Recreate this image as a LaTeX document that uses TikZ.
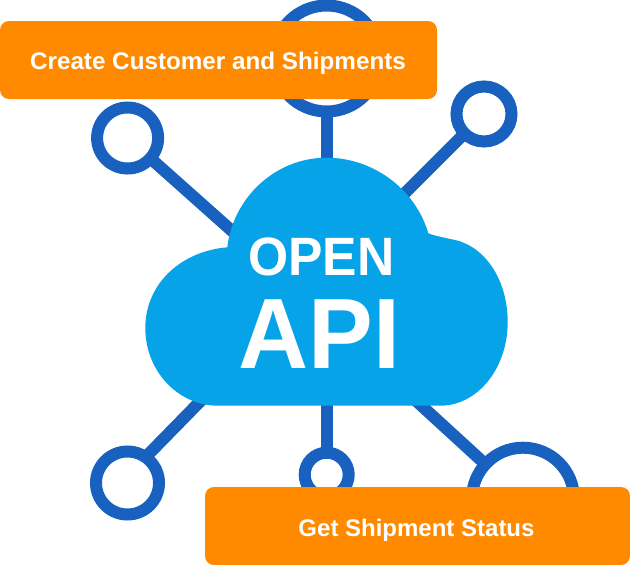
\documentclass[tikz,border=0pt]{standalone}
\usepackage{fontspec}
\setmainfont{Liberation Sans}
\definecolor{linkblue}{HTML}{1961BF}
\definecolor{cloudblue}{HTML}{06A3E8}
\definecolor{boxorange}{HTML}{FF8A00}
\tikzset{
  ring/.style={circle,draw=linkblue,line width=12pt,inner sep=0pt,outer sep=0pt,minimum size=#1},
  link/.style={draw=linkblue,line width=12pt},
  labelbox/.style={fill=boxorange,rounded corners=9pt,inner sep=0pt,minimum height=78pt},
  boxtext/.style={text=white,inner sep=0pt,font=\fontsize{24}{26}\selectfont\bfseries},
  cloudtext/.style={text=white,inner sep=0pt,font=\bfseries}
}
\begin{document}
\begin{tikzpicture}[x=1pt,y=-1pt]
\useasboundingbox (0,0) rectangle (630,565);
% circles
\node[ring=106pt] (top) at (326.7,58.5) {};
\node[ring=61pt] (tl) at (127.6,138) {};
\node[ring=55pt] (tr) at (484,114) {};
\node[ring=63pt] (bl) at (127.5,483) {};
\node[ring=44pt] (bm) at (326.7,474.7) {};
\node[ring=102pt] (br) at (523,498.7) {};
% free ends inside the cloud
\coordinate (ctop) at (326.7,200);
\coordinate (ctl) at (250,247);
\coordinate (ctr) at (385,213);
\coordinate (cbl) at (225,376);
\coordinate (cbm) at (326.7,380);
\coordinate (cbr) at (400,386);
% connectors
\draw[link] (top) -- (ctop);
\draw[link] (tl) -- (ctl);
\draw[link] (tr) -- (ctr);
\draw[link] (bl.55) -- (cbl);
\draw[link] (bm) -- (cbm);
\draw[link] (br) -- (cbr);
% cloud
\fill[cloudblue] (218,405.7)
  .. controls (178,405.7) and (145.3,371) .. (145.3,328)
  .. controls (145.3,283) and (182,251) .. (227.3,247.3)
  .. controls (233,198) and (275,157.7) .. (326.7,157.7)
  .. controls (372,157.7) and (415,188) .. (428.3,233.3)
  .. controls (435,236) and (444,237.5) .. (451.7,239.3)
  .. controls (485,245) and (507.7,280) .. (507.7,322)
  .. controls (507.7,368) and (478,405.7) .. (440,405.7)
  -- cycle;
\node[cloudtext] (open) at (321.5,256.5) {\fontsize{54}{54}\selectfont\scalebox{0.955}[1]{OPEN}};
\node[cloudtext] (api) at (319.5,334.5) {\fontsize{100}{100}\selectfont\scalebox{0.97}[1]{API}};
% label boxes
\node[labelbox,minimum width=437pt] (create) at (218.5,60) {};
\node[labelbox,minimum width=425pt] (get) at (417.5,526) {};
\node[boxtext,anchor=base] (createtext) at (218,69.5) {\scalebox{1.01}[1]{Create Customer and Shipments}};
\node[boxtext,anchor=base] (gettext) at (416.5,536.5) {Get Shipment Status};
\end{tikzpicture}
\end{document}
